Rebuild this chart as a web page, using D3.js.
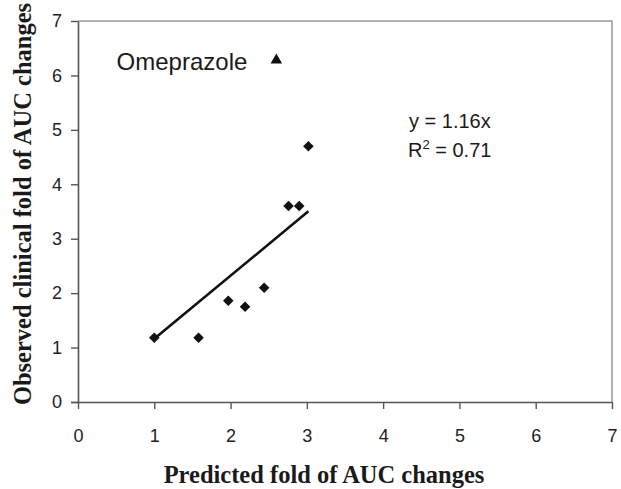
<!DOCTYPE html>
<html lang="en">
<head>
    <meta charset="UTF-8" />
    <title>Predicted vs observed fold of AUC changes</title>
    <script src="https://d3js.org/d3.v7.min.js"></script>
    <style>
        body { margin: 0; background: #fff; }
        svg { display: block; }
        .tick text { font-family: "Liberation Sans", Arial, sans-serif; font-size: 18px; fill: #222; }
        .axis-title { font-family: "Liberation Serif", "Times New Roman", serif; font-weight: bold; font-size: 24.5px; fill: #1a1a1a; }
        .note { font-family: "Liberation Sans", Arial, sans-serif; fill: #1a1a1a; }
    </style>
</head>
<body>
<div id="chart"></div>
<script>
    // Datos
    const predicted = [1.0, 1.58, 1.97, 2.19, 2.44, 2.76, 2.90, 3.02];
    const observed  = [1.18, 1.18, 1.86, 1.75, 2.10, 3.60, 3.60, 4.70];
    const outlier = { x: 2.60, y: 6.28, label: "Omeprazole" };
    const slope = 1.16;
    const r2Value = "0.71";
    const fitRange = [1.0, 3.02];
    const ticks = [0, 1, 2, 3, 4, 5, 6, 7];

    const W = 621, H = 489;
    const m = { left: 78, right: 9, top: 21, bottom: 87 };

    const svg = d3.select("#chart").append("svg")
        .attr("width", W)
        .attr("height", H);

    const x = d3.scaleLinear().domain([0, 7]).range([m.left, W - m.right]);
    const y = d3.scaleLinear().domain([0, 7]).range([H - m.bottom, m.top]);

    // borde superior y derecho del área de trazado
    svg.append("path")
        .attr("d", `M${x(0)},${y(7)}H${x(7)}V${y(0)}`)
        .attr("fill", "none")
        .attr("stroke", "#999")
        .attr("stroke-width", 1.5);

    const xAxis = svg.append("g")
        .attr("transform", `translate(0,${y(0)})`)
        .call(d3.axisBottom(x).tickValues(ticks).tickFormat(d3.format("d"))
            .tickSize(7).tickSizeOuter(0).tickPadding(20));

    const yAxis = svg.append("g")
        .attr("transform", `translate(${x(0)},0)`)
        .call(d3.axisLeft(y).tickValues(ticks).tickFormat(d3.format("d"))
            .tickSize(7).tickSizeOuter(0).tickPadding(9));

    [xAxis, yAxis].forEach(g => {
        g.select(".domain").attr("stroke", "#555").attr("stroke-width", 1.6);
        g.selectAll(".tick line").attr("stroke", "#555").attr("stroke-width", 1.4);
    });
    // la línea del eje x empieza a la izquierda del 0
    xAxis.select(".domain").attr("d", `M${x(0) - 7},0.5H${x(7)}`);

    // línea de tendencia y = 1.16x
    svg.append("line")
        .attr("x1", x(fitRange[0])).attr("y1", y(slope * fitRange[0]))
        .attr("x2", x(fitRange[1])).attr("y2", y(slope * fitRange[1]))
        .attr("stroke", "#111")
        .attr("stroke-width", 2.6);

    // puntos
    svg.append("g")
        .selectAll("path")
        .data(predicted.map((p, i) => ({ x: p, y: observed[i] })))
        .enter()
        .append("path")
        .attr("d", d3.symbol().type(d3.symbolSquare).size(56))
        .attr("transform", d => `translate(${x(d.x)},${y(d.y)}) rotate(45)`)
        .attr("fill", "#111");

    svg.append("path")
        .attr("d", d3.symbol().type(d3.symbolTriangle).size(58))
        .attr("transform", `translate(${x(outlier.x)},${y(outlier.y)})`)
        .attr("fill", "#111");

    svg.append("text")
        .attr("class", "note")
        .attr("x", x(outlier.x) - 29)
        .attr("y", y(outlier.y) + 10)
        .attr("text-anchor", "end")
        .attr("font-size", 24)
        .text(outlier.label);

    // ecuación y R²
    svg.append("text")
        .attr("class", "note")
        .attr("x", 409)
        .attr("y", 128)
        .attr("font-size", 20)
        .text(`y = ${slope}x`);

    const r2 = svg.append("text")
        .attr("class", "note")
        .attr("x", 408)
        .attr("y", 157)
        .attr("font-size", 20);
    r2.append("tspan").text("R");
    r2.append("tspan").attr("dy", -8).attr("font-size", 13).text("2");
    r2.append("tspan").attr("dy", 8).text(` = ${r2Value}`);

    // títulos de los ejes
    svg.append("text")
        .attr("class", "axis-title")
        .attr("x", 324)
        .attr("y", 483)
        .attr("text-anchor", "middle")
        .text("Predicted fold of AUC changes");

    svg.append("text")
        .attr("class", "axis-title")
        .attr("transform", `translate(31,204) rotate(-90)`)
        .attr("text-anchor", "middle")
        .text("Observed clinical fold of AUC changes");
</script>
</body>
</html>
